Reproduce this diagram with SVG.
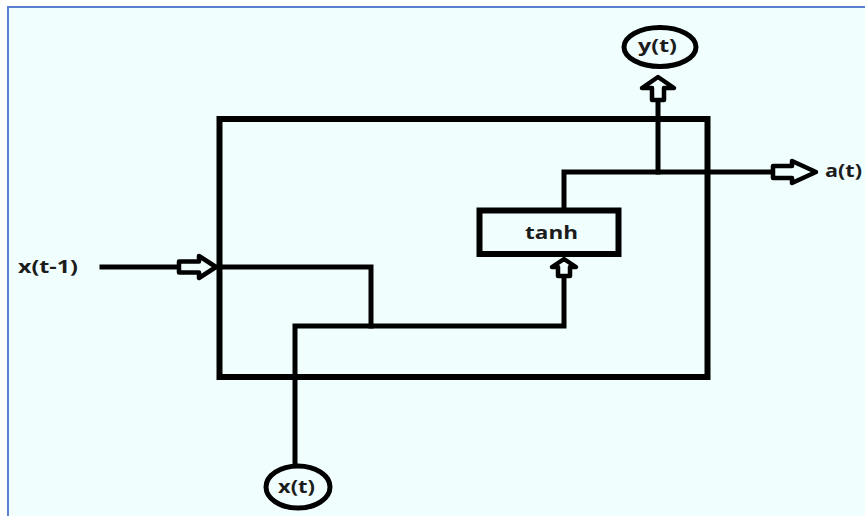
<svg xmlns="http://www.w3.org/2000/svg" width="865" height="516" viewBox="0 0 865 516">
  <style>
    .ln { fill: none; stroke: #000; stroke-width: 5; stroke-linecap: square; stroke-linejoin: miter; }
    .box { fill: none; stroke: #000; stroke-width: 6; }
    .arr { fill: #f0fefe; stroke: #000; stroke-width: 4.5; stroke-linejoin: round; }
    .node { fill: #f0fefe; stroke: #000; stroke-width: 5; }
    .lbl { font-family: "Open Sans", "Liberation Sans", sans-serif; font-weight: bold; font-size: 18px; fill: #1c1c1c; }
  </style>
  <rect x="0" y="0" width="865" height="516" fill="#ffffff"/>
  <rect x="8" y="7" width="870" height="520" fill="#f0fefe" stroke="#5b80d2" stroke-width="2"/>

  <g id="cell">
    <rect x="219.5" y="119" width="488" height="258" class="box"/>
  </g>

  <g id="connectors">
    <polyline class="ln" points="102,267 179,267"/>
    <polyline class="ln" points="219,267 371,267 371,326"/>
    <polyline class="ln" points="295,462 295,326 564,326 564,276"/>
    <polyline class="ln" points="564,208 564,172 773,172"/>
    <polyline class="ln" points="658,172 658,100"/>
    <path class="arr" d="M179,261.5 L199,261.5 L199,256 L216,267 L199,278 L199,272.5 L179,272.5 Z"/>
    <path class="arr" d="M773,166 L792,166 L792,161 L816,172 L792,183 L792,178 L773,178 Z"/>
    <path class="arr" d="M652,100 L652,88 L642,88 L658,77 L674,88 L664,88 L664,100 Z"/>
    <path class="arr" d="M558,276 L558,267 L552,267 L564,259 L576,267 L570,267 L570,276 Z"/>
  </g>

  <g id="tanh">
    <rect x="479.5" y="210.5" width="139" height="43.5" class="box" fill="#f0fefe"/>
    <text class="lbl" x="525" y="239" textLength="53" lengthAdjust="spacingAndGlyphs">tanh</text>
  </g>

  <g id="yt">
    <ellipse cx="660" cy="47" rx="36" ry="19.5" class="node"/>
    <text class="lbl" x="638" y="52" textLength="39" lengthAdjust="spacingAndGlyphs">y(t)</text>
  </g>

  <g id="xt">
    <ellipse cx="298" cy="487" rx="32" ry="21" class="node"/>
    <text class="lbl" x="278" y="493" textLength="37" lengthAdjust="spacingAndGlyphs">x(t)</text>
  </g>

  <g id="xt1">
    <text class="lbl" x="18" y="273" textLength="60" lengthAdjust="spacingAndGlyphs">x(t-1)</text>
  </g>

  <g id="at">
    <text class="lbl" x="825" y="177" textLength="37" lengthAdjust="spacingAndGlyphs">a(t)</text>
  </g>
</svg>
